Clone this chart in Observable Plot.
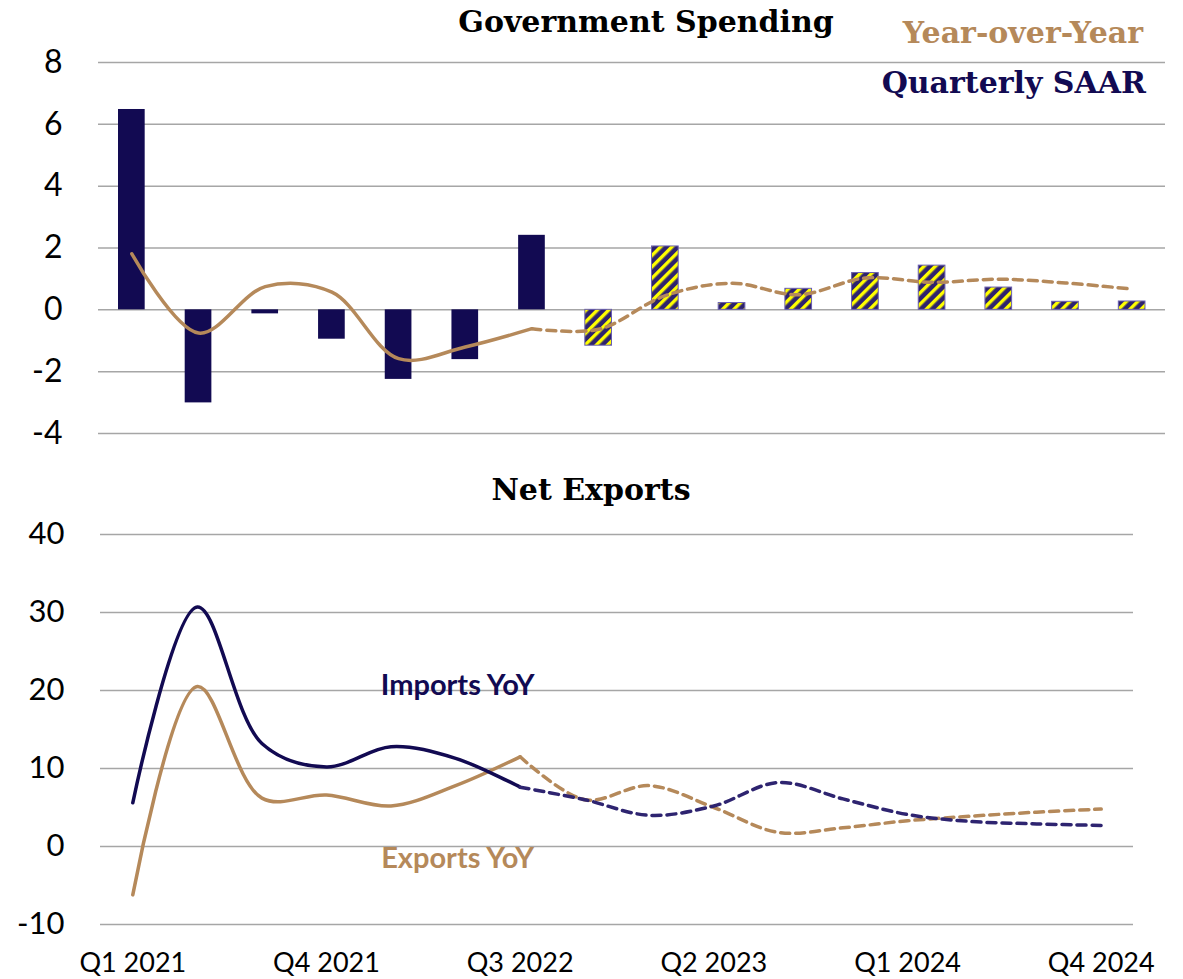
<!DOCTYPE html>
<html><head><meta charset="utf-8">
<script src="https://cdn.jsdelivr.net/npm/d3@7"></script>
<script src="https://cdn.jsdelivr.net/npm/@observablehq/plot@0.6"></script>
<style>
body{margin:0;background:#fff;}
#wrap{position:relative;width:1183px;height:979px;overflow:hidden;}
#wrap svg{position:absolute;left:0;}
.t{position:absolute;font-family:"DejaVu Serif",serif;font-weight:bold;font-size:30px;white-space:nowrap;line-height:1;}
#bottomChart g[aria-label^="x-axis"]{font-size:27px;}
</style></head><body>
<div id="wrap"></div>
<script>
// ---- data ----
const quarters = ["Q1 2021","Q2 2021","Q3 2021","Q4 2021","Q1 2022","Q2 2022","Q3 2022","Q4 2022",
  "Q1 2023","Q2 2023","Q3 2023","Q4 2023","Q1 2024","Q2 2024","Q3 2024","Q4 2024"];
const lastActualQuarter = "Q3 2022";
const govSAAR = [6.48,-3.01,-0.13,-0.95,-2.25,-1.61,2.41,-1.16,2.05,0.22,0.68,1.19,1.43,0.72,0.26,0.27];
const govYoY  = [1.81,-0.75,0.75,0.57,-1.58,-1.2,-0.61,-0.63,0.46,0.86,0.49,1.03,0.89,0.99,0.87,0.67];
const importsYoY = [5.6,30.7,13.2,10.2,12.8,11.3,7.6,6.0,4.0,5.2,8.2,6.1,4.1,3.2,2.9,2.7];
const exportsYoY = [-6.2,20.5,6.2,6.6,5.2,7.8,11.5,6.0,7.8,5.0,1.8,2.4,3.3,3.9,4.4,4.8];
const xTickLabels = ["Q1 2021","Q4 2021","Q3 2022","Q2 2023","Q1 2024","Q4 2024"];
const topTicks = [-4,-2,0,2,4,6,8];
const bottomTicks = [-10,0,10,20,30,40];
const seriesLabels = [
  {q:"Q2 2022", v:20.6, text:"Imports YoY", series:"imports"},
  {q:"Q2 2022", v:-1.6, text:"Exports YoY", series:"exports"}
];

// ---- colours ----
const NAVY = "#120a52", NAVY_DASH = "#2e2470", TAN = "#b5895a", GRID = "#a6a6a6";

const cut = quarters.indexOf(lastActualQuarter);
const rows = vals => quarters.map((q, i) => ({q, v: vals[i], i}));
const actual = vals => rows(vals).filter(d => d.i <= cut);
const forecast = vals => rows(vals).filter(d => d.i >= cut);
const fmt = d => String(d);

const wrap = document.getElementById("wrap");

// ---- top chart: Government Spending ----
const topChart = Plot.plot({
  width: 1183, height: 460,
  marginTop: 62, marginBottom: 27, marginLeft: 98, marginRight: 18,
  style: {fontFamily: "Lato, sans-serif", fontSize: "32px", color: "#000", background: "transparent"},
  x: {type: "band", domain: quarters, paddingInner: 0.6, paddingOuter: 0.3, round: false, axis: null},
  y: {domain: [-4, 8], ticks: topTicks, tickFormat: fmt, tickSize: 0, tickPadding: 36, label: null},
  marks: [
    Plot.ruleY(topTicks, {stroke: GRID, strokeWidth: 1.5}),
    Plot.barY(rows(govSAAR).filter(d => d.i <= cut), {x: "q", y: "v", fill: NAVY}),
    Plot.barY(rows(govSAAR).filter(d => d.i > cut), {x: "q", y: "v", fill: "url(#hatch)", stroke: "#6a5fb0", strokeWidth: 1}),
    Plot.line(actual(govYoY), {x: "q", y: "v", stroke: TAN, strokeWidth: 3.5, curve: "catmull-rom"}),
    Plot.line(forecast(govYoY), {x: "q", y: "v", stroke: TAN, strokeWidth: 3.5, strokeDasharray: "9,6", curve: "catmull-rom"})
  ]
});
const defs = d3.select(topChart).insert("defs", ":first-child");
const pat = defs.append("pattern").attr("id", "hatch").attr("patternUnits", "userSpaceOnUse")
  .attr("width", 8).attr("height", 8).attr("patternTransform", "rotate(45)");
pat.append("rect").attr("width", 8).attr("height", 8).attr("fill", "#2e236e");
pat.append("rect").attr("width", 3.4).attr("height", 8).attr("fill", "#ffff00");
topChart.style.top = "0px";
wrap.appendChild(topChart);

// ---- bottom chart: Net Exports ----
const bottomChart = Plot.plot({
  width: 1183, height: 519,
  marginTop: 74, marginBottom: 55, marginLeft: 100, marginRight: 50,
  style: {fontFamily: "Lato, sans-serif", fontSize: "31px", color: "#000", background: "transparent"},
  x: {type: "point", domain: quarters, padding: 0.5, round: false, ticks: xTickLabels, tickSize: 0, tickPadding: 28, label: null},
  y: {domain: [-10, 40], ticks: bottomTicks, tickFormat: fmt, tickSize: 0, tickPadding: 36, label: null},
  marks: [
    Plot.ruleY(bottomTicks, {stroke: GRID, strokeWidth: 1.5}),
    Plot.line(actual(exportsYoY), {x: "q", y: "v", stroke: TAN, strokeWidth: 3.5, curve: "catmull-rom"}),
    Plot.line(forecast(exportsYoY), {x: "q", y: "v", stroke: TAN, strokeWidth: 3.5, strokeDasharray: "9,6", curve: "catmull-rom"}),
    Plot.line(actual(importsYoY), {x: "q", y: "v", stroke: NAVY, strokeWidth: 3.5, curve: "catmull-rom"}),
    Plot.line(forecast(importsYoY), {x: "q", y: "v", stroke: NAVY_DASH, strokeWidth: 3.5, strokeDasharray: "9,6", curve: "catmull-rom"}),
    Plot.text(seriesLabels, {x: "q", y: "v", text: "text", fill: d => d.series === "imports" ? NAVY : TAN,
      fontSize: 29, fontWeight: "bold", fontFamily: "Lato, sans-serif", dx: 2})
  ]
});
bottomChart.id = "bottomChart";
bottomChart.style.top = "460px";
wrap.appendChild(bottomChart);

// ---- titles & legend ----
function addText(txt, css) {
  const d = document.createElement("div");
  d.className = "t"; d.textContent = txt;
  Object.assign(d.style, css);
  wrap.appendChild(d);
  return d;
}
addText("Government Spending", {left: "0px", width: "1292px", textAlign: "center", top: "7px", color: "#000"});
addText("Year-over-Year", {right: "40px", top: "18px", color: TAN});
addText("Quarterly SAAR", {right: "37px", top: "68px", color: NAVY});
addText("Net Exports", {left: "0px", width: "1182px", textAlign: "center", top: "475px", color: "#000"});
</script>
</body></html>
